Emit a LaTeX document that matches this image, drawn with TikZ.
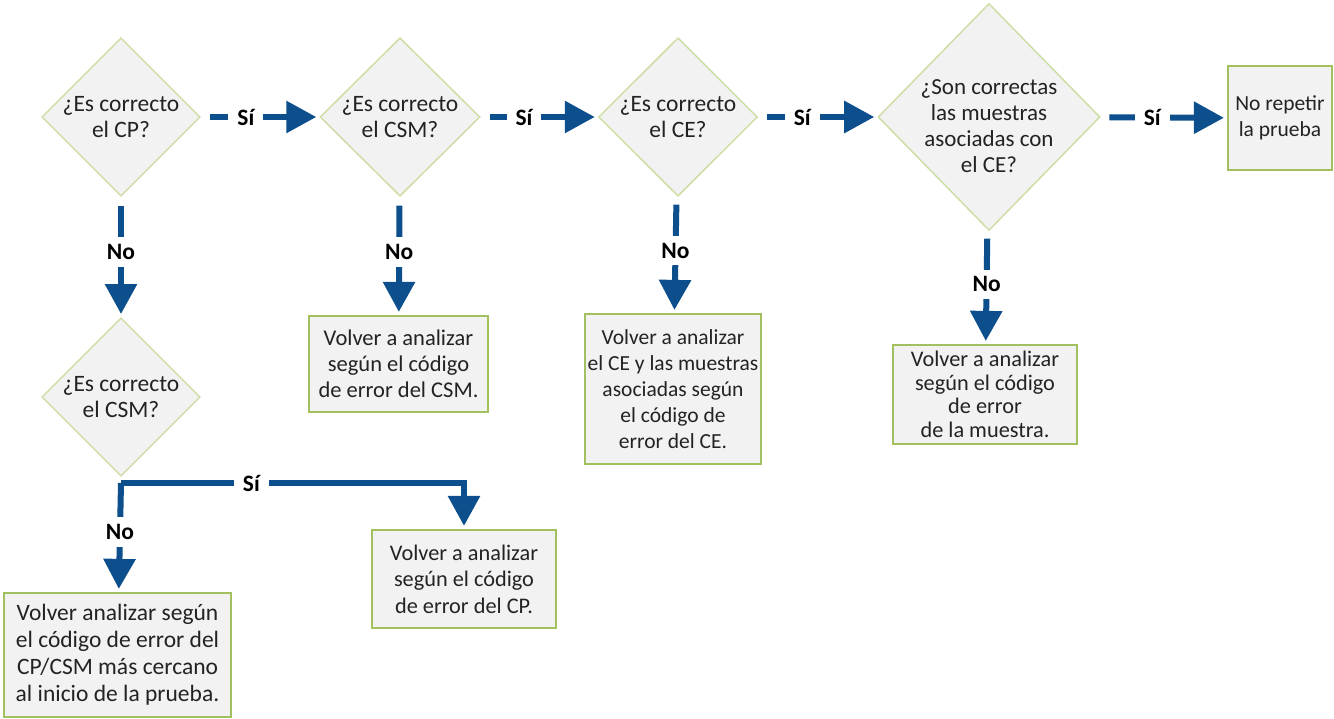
\documentclass[tikz,border=0pt]{standalone}
\usepackage{fontspec}
\setmainfont{Carlito}
\usetikzlibrary{shapes.geometric, arrows.meta}
\definecolor{flowblue}{RGB}{12,79,140}
\definecolor{qgreen}{RGB}{206,222,166}
\definecolor{boxgreen}{RGB}{163,192,95}
\definecolor{qgray}{RGB}{242,242,242}
\definecolor{inkgray}{RGB}{35,35,35}
\tikzstyle{question} = [diamond, draw=qgreen, line width=1.5pt, fill=qgray, inner sep=0pt, align=center, text=inkgray, font=\fontsize{23.5}{26.5}\selectfont]
\tikzstyle{qtext} = [align=center, text=inkgray, font=\fontsize{23}{26}\selectfont]
\tikzstyle{action} = [rectangle, draw=boxgreen, line width=2.2pt, fill=qgray, inner sep=0pt, align=center, text=inkgray]
\tikzstyle{flow} = [draw=flowblue, line width=6pt, -{Triangle[width=31pt,length=30pt]}, shorten <=9pt, shorten >=3pt]
\tikzstyle{answer} = [fill=white, inner xsep=9pt, inner ysep=7pt, text=black, font=\bfseries\fontsize{23.5}{26}\selectfont]

\begin{document}
\begin{tikzpicture}[x=1pt, y=-1pt]
        \useasboundingbox [fill=white] (0,0) rectangle (1334,719);
        \node (d1) [question, minimum width=158pt, minimum height=158pt] at (121,117) {¿Es correcto\\el CP?};
        \node (d2) [question, minimum width=160pt, minimum height=158pt] at (400,117) {¿Es correcto\\el CSM?};
        \node (d3) [question, minimum width=159pt, minimum height=158pt] at (678,117) {¿Es correcto\\el CE?};
        \node (d4) [question, minimum width=222pt, minimum height=227pt] at (989,117) {};
        \node [qtext] at (d4.center) [yshift=-9pt] {¿Son correctas\\las muestras\\asociadas con\\el CE?};
        \node (d5) [question, minimum width=158pt, minimum height=158pt] at (121,397) {¿Es correcto\\el CSM?};
        \node (b2) [action, minimum width=179pt, minimum height=96pt, font=\fontsize{22.5}{26}\selectfont] at (398.5,364) {Volver a analizar\\según el código\\de error del CSM.};
        \node (b3) [action, minimum width=176pt, minimum height=150pt, font=\fontsize{21.5}{26}\selectfont] at (673,389) {Volver a analizar\\el CE y las muestras\\asociadas según\\el código de\\error del CE.};
        \node (b4) [action, minimum width=184pt, minimum height=99pt, font=\fontsize{22.3}{23.5}\selectfont] at (985,394.5) {Volver a analizar\\según el código\\de error\\de la muestra.};
        \node (b5) [action, minimum width=104pt, minimum height=104pt, font=\fontsize{21.5}{26}\selectfont] at (1280,118) {No repetir\\la prueba};
        \node (bcp) [action, minimum width=184pt, minimum height=98pt, font=\fontsize{22.3}{26.5}\selectfont] at (464,579) {Volver a analizar\\según el código\\de error del CP.};
        \node (bl) [action, minimum width=227pt, minimum height=124pt, font=\fontsize{23.5}{27}\selectfont] at (117.5,655) {Volver analizar según\\el código de error del\\CP/CSM más cercano\\al inicio de la prueba.};
        \coordinate (split) at ([yshift=-6pt]d5.south);
        \draw [flow] (d1) -- node [answer, pos=0.38] {Sí} (d2);
        \draw [flow] (d2) -- node [answer, pos=0.37] {Sí} (d3);
        \draw [flow] (d3) -- node [answer, pos=0.37] {Sí} (d4);
        \draw [flow] (d4) -- node [answer, pos=0.41] {Sí} (b5);
        \draw [flow] (d1) -- node [answer, pos=0.46] {No} (d5);
        \draw [flow] (d2) -- node [answer, pos=0.47] {No} (b2);
        \draw [flow] (d3) -- node [answer, pos=0.47] {No} (b3);
        \draw [flow] (d4) -- node [answer, pos=0.48] {No} (b4);
        \draw [flow, shorten <=0pt] (split) -- node [answer, pos=0.45] {No} (bl);
        \draw [flow, shorten <=0pt] (split) -| node [answer, pos=0.19] {Sí} (bcp);
    \end{tikzpicture}
\end{document}
